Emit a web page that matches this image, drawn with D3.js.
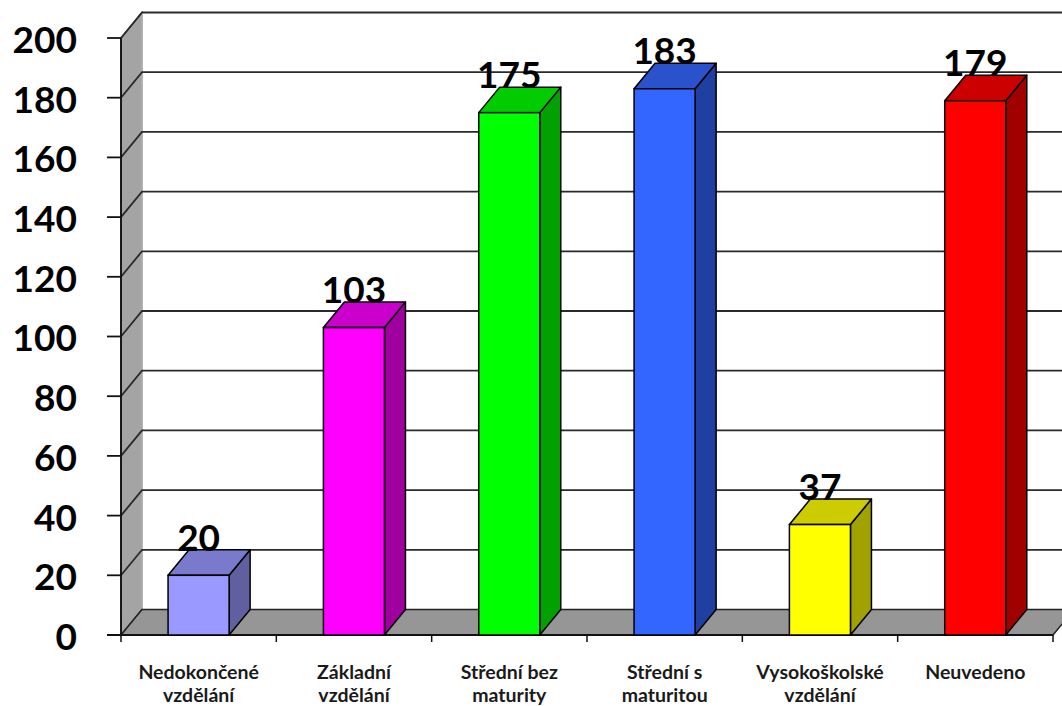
<!DOCTYPE html>
<html>
<head>
<meta charset="utf-8">
<script src="https://cdn.jsdelivr.net/npm/d3@7"></script>
<style>
  body { margin: 0; background: #fff; }
  svg { display: block; }
</style>
</head>
<body>
<script>
// data
const categories = ['Nedokončené|vzdělání', 'Základní|vzdělání', 'Střední bez|maturity', 'Střední s|maturitou', 'Vysokoškolské|vzdělání', 'Neuvedeno']
const values = [20, 103, 175, 183, 37, 179]
const yTicks = [0, 20, 40, 60, 80, 100, 120, 140, 160, 180, 200]
const baseColors = ['#9999FF', '#FF00FF', '#00FF00', '#3366FF', '#FFFF00', '#FF0000']

const W = 1062
const H = 706
const margin = { top: 38, right: 9, bottom: 71, left: 121 }
const depthX = 21
const depthY = -25.5

const svg = d3.select('body').append('svg')
  .attr('width', W)
  .attr('height', H)

const x = d3.scaleBand()
  .domain(categories)
  .range([margin.left, W - margin.right])
  .paddingInner(0)
  .paddingOuter(0)

const y = d3.scaleLinear()
  .domain([0, 200])
  .range([H - margin.bottom, margin.top])

const x0 = margin.left
const x1 = W - margin.right
const y0 = y(0)
const yTop = y(200)

const shade = (c, k) => {
  const r = d3.rgb(c)
  return d3.rgb(r.r * k, r.g * k, r.b * k).formatHex()
}
const pts = a => a.map(p => p.join(',')).join(' ')

// back wall
svg.append('polygon')
  .attr('points', pts([[x0 + depthX, yTop + depthY], [x1 + depthX, yTop + depthY], [x1 + depthX, y0 + depthY], [x0 + depthX, y0 + depthY]]))
  .attr('fill', '#fff')

// left wall
svg.append('polygon')
  .attr('points', pts([[x0, yTop], [x0 + depthX, yTop + depthY], [x0 + depthX, y0 + depthY], [x0, y0]]))
  .attr('fill', '#a4a4a4')
  .attr('stroke', '#222')
  .attr('stroke-width', 1.2)

svg.append('line')
  .attr('x1', x0 + depthX).attr('x2', x0 + depthX)
  .attr('y1', yTop + depthY).attr('y2', y0 + depthY)
  .attr('stroke', '#c8c8c8').attr('stroke-width', 1.5)

// floor
svg.append('polygon')
  .attr('points', pts([[x0, y0], [x0 + depthX, y0 + depthY], [x1 + depthX, y0 + depthY], [x1, y0]]))
  .attr('fill', '#969696')
  .attr('stroke', '#222')
  .attr('stroke-width', 1.5)

// gridlines (left wall diagonal + back wall)
const grid = svg.append('g')
grid.selectAll('path.grid')
  .data(yTicks.filter(d => d > 0))
  .join('path')
  .attr('class', 'grid')
  .attr('d', d => `M${x0},${y(d)}L${x0 + depthX},${y(d) + depthY}L${x1 + depthX},${y(d) + depthY}`)
  .attr('fill', 'none')
  .attr('stroke', '#2a2a2a')
  .attr('stroke-width', 1.8)

// y axis
svg.append('line')
  .attr('x1', x0).attr('x2', x0)
  .attr('y1', yTop).attr('y2', y0)
  .attr('stroke', '#111').attr('stroke-width', 1.8)

const yAxis = svg.append('g')
yAxis.selectAll('line')
  .data(yTicks)
  .join('line')
  .attr('x1', x0 - 14).attr('x2', x0)
  .attr('y1', d => y(d)).attr('y2', d => y(d))
  .attr('stroke', '#111').attr('stroke-width', 1.8)

yAxis.selectAll('text')
  .data(yTicks)
  .join('text')
  .attr('x', 77)
  .attr('y', d => y(d) + 2)
  .attr('dy', '0.35em')
  .attr('text-anchor', 'end')
  .style('font', 'bold 37px Lato, sans-serif')
  .attr('fill', '#000')
  .text(d => d)

// x axis
svg.append('line')
  .attr('x1', x0 - 14).attr('x2', x1)
  .attr('y1', y0).attr('y2', y0)
  .attr('stroke', '#111').attr('stroke-width', 1.8)

svg.append('g').selectAll('line')
  .data(categories.concat(['end']))
  .join('line')
  .attr('x1', (d, i) => x0 + i * x.bandwidth())
  .attr('x2', (d, i) => x0 + i * x.bandwidth())
  .attr('y1', y0).attr('y2', y0 + 7)
  .attr('stroke', '#111').attr('stroke-width', 1.5)

const catLabels = svg.append('g').selectAll('text')
  .data(categories)
  .join('text')
  .attr('text-anchor', 'middle')
  .style('font', 'bold 19.5px Lato, sans-serif')
  .attr('fill', '#1a1a1a')

catLabels.each(function (d) {
  const t = d3.select(this)
  const cx = x(d) + x.bandwidth() / 2
  d.split('|').forEach((line, i) => {
    t.append('tspan')
      .attr('x', cx)
      .attr('y', 679 + i * 23)
      .text(line)
  })
})

// bars
const bw = x.bandwidth() * 0.393
const bOff = x.bandwidth() * 0.303
const data = categories.map((c, i) => ({ c, v: values[i], color: baseColors[i] }))

const bars = svg.append('g').selectAll('g')
  .data(data)
  .join('g')

bars.append('polygon') // side
  .attr('points', d => {
    const l = x(d.c) + bOff + bw
    return pts([[l, y(d.v)], [l + depthX, y(d.v) + depthY], [l + depthX, y0 + depthY], [l, y0]])
  })
  .attr('fill', d => shade(d.color, 0.63))
  .attr('stroke', '#000').attr('stroke-width', 1.5).attr('stroke-linejoin', 'round')

bars.append('polygon') // top
  .attr('points', d => {
    const l = x(d.c) + bOff
    return pts([[l, y(d.v)], [l + depthX, y(d.v) + depthY], [l + bw + depthX, y(d.v) + depthY], [l + bw, y(d.v)]])
  })
  .attr('fill', d => shade(d.color, 0.8))
  .attr('stroke', '#000').attr('stroke-width', 1.5).attr('stroke-linejoin', 'round')

bars.append('rect') // front
  .attr('x', d => x(d.c) + bOff)
  .attr('y', d => y(d.v))
  .attr('width', bw)
  .attr('height', d => y0 - y(d.v))
  .attr('fill', d => d.color)
  .attr('stroke', '#000').attr('stroke-width', 1.5)

bars.append('text')
  .attr('x', d => x(d.c) + bOff + bw / 2)
  .attr('y', d => y(d.v) + depthY + 1)
  .attr('text-anchor', 'middle')
  .style('font', 'bold 37px Lato, sans-serif')
  .attr('fill', '#000')
  .text(d => d.v)
</script>
</body>
</html>
